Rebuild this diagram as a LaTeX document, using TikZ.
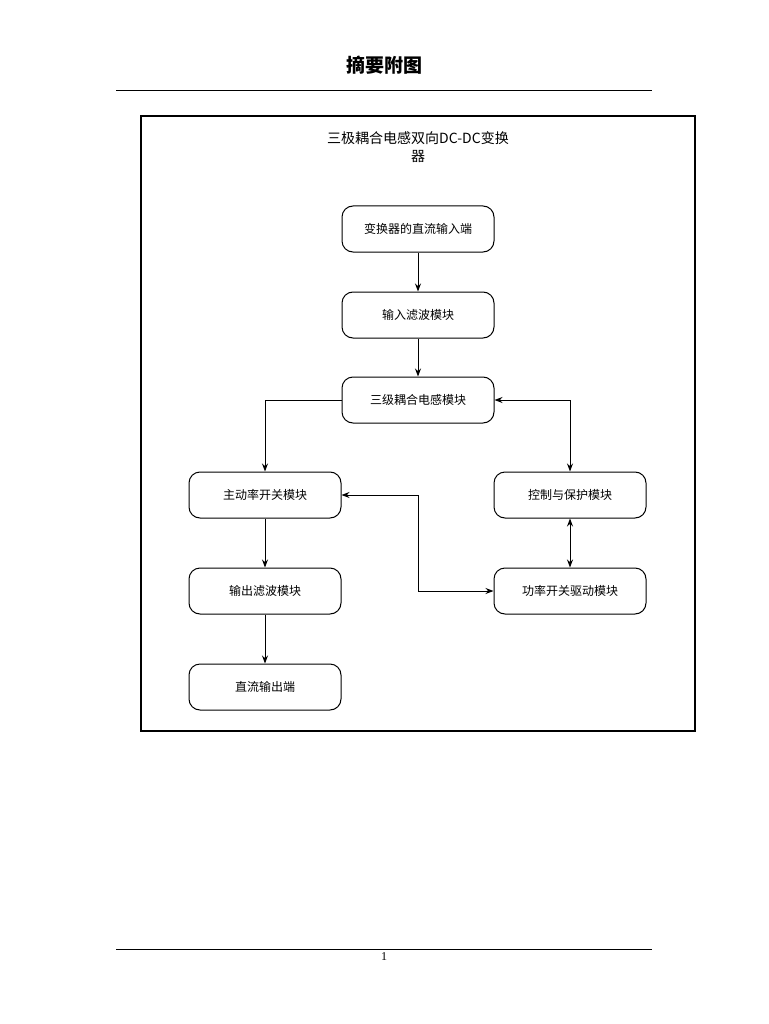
\documentclass[tikz,border=0pt]{standalone}
\usepackage{fontspec}
\setmainfont{Liberation Serif}
\newfontfamily\cjk{Noto Sans CJK SC}
\usetikzlibrary{arrows.meta}
\begin{document}
\begin{tikzpicture}[x=1pt,y=-1pt,
  box/.style={draw,line width=1pt,rounded corners=11pt,minimum width=152pt,minimum height=46pt,font=\cjk\fontsize{12}{14}\selectfont,inner sep=0pt},
  ar/.style={line width=1pt,-{Stealth[length=8pt,width=6pt]}},
  dar/.style={line width=1pt,{Stealth[length=8pt,width=6pt]}-{Stealth[length=8pt,width=6pt]}}]
\useasboundingbox (0,0) rectangle (768,1024);
\fill[white] (0,0) rectangle (768,1024);
\node[font=\cjk\bfseries\fontsize{19}{22}\selectfont] (title) at (384,65) {摘要附图};
\draw[line width=0.8pt] (116,90) -- (652,90);
\draw[line width=1.2pt] (141,116) rectangle (695,731);
\node[font=\cjk\fontsize{14}{18}\selectfont,align=center] (cap) at (418,147) {三极耦合电感双向DC-DC变换\\器};
\node[box] (n1) at (418,229) {变换器的直流输入端};
\node[box] (n2) at (418,315) {输入滤波模块};
\node[box] (n3) at (418,400) {三级耦合电感模块};
\node[box] (n4) at (265,495) {主动率开关模块};
\node[box] (n5) at (570,495) {控制与保护模块};
\node[box] (n6) at (265,591) {输出滤波模块};
\node[box] (n7) at (570,591) {功率开关驱动模块};
\node[box] (n8) at (265,687) {直流输出端};
\draw[ar] (n1) -- (n2);
\draw[ar] (n2) -- (n3);
\draw[ar] (n3.west) -| (n4.north);
\draw[dar] (n3.east) -| (n5.north);
\draw[dar] (n5) -- (n7);
\coordinate (m1) at (418,495);
\coordinate (m2) at (418,591);
\draw[dar] (n4.east) -- (m1) -- (m2) -- (n7.west);
\draw[ar] (n4) -- (n6);
\draw[ar] (n6) -- (n8);
\draw[line width=0.8pt] (116,949) -- (652,949);
\node[font=\fontsize{12}{14}\selectfont] (pg) at (384,957) {1};
\end{tikzpicture}
\end{document}
